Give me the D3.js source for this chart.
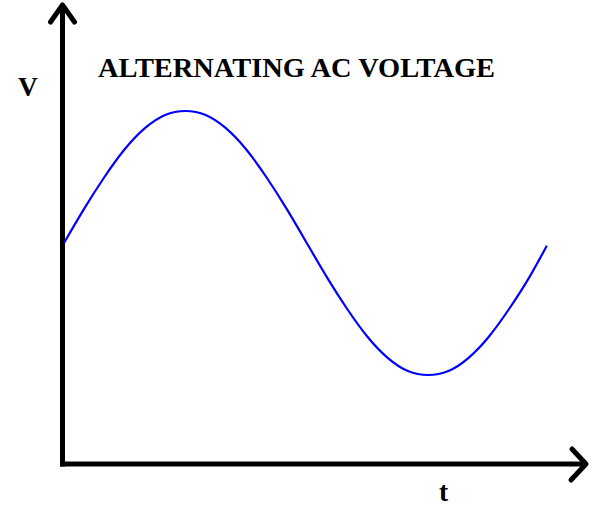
<!DOCTYPE html>
<html>
<head>
<meta charset="utf-8">
<script src="https://cdn.jsdelivr.net/npm/d3@7"></script>
<style>
  html, body { margin: 0; padding: 0; background: #fff; }
  svg { display: block; }
</style>
</head>
<body>
<svg id="chart" width="609" height="514"></svg>
<script>
// Phase angle (degrees) along the time axis
const phase = [0, 15, 30, 45, 60, 75, 90, 105, 120, 135, 150, 165, 180,
               195, 210, 225, 240, 255, 270, 285, 300, 315, 330, 345, 358];
// Voltage (relative to peak)
const voltage = [0, 0.26, 0.5, 0.71, 0.87, 0.97, 1, 0.97, 0.87, 0.71, 0.5, 0.26, 0,
                 -0.26, -0.5, -0.71, -0.87, -0.97, -1, -0.97, -0.87, -0.71, -0.5, -0.26, -0.02];
const titleText = "ALTERNATING AC VOLTAGE";
const yLabel = "V";
const xLabel = "t";

const svg = d3.select("#chart");

const x = d3.scaleLinear().domain([0, 360]).range([64, 549.5]);
const y = d3.scaleLinear().domain([-1, 1]).range([375, 111]);

// Axes with arrows
const originX = 62.5, originY = 464;
const axisTopY = 5, axisRightX = 586;
const axisG = svg.append("g")
  .attr("fill", "none").attr("stroke", "#000")
  .attr("stroke-width", 5).attr("stroke-linecap", "round").attr("stroke-linejoin", "round");

axisG.append("path").attr("stroke-linecap", "butt")
  .attr("d", `M${originX},${axisTopY} V${originY + 2.5}`);
axisG.append("path").attr("stroke-linecap", "butt")
  .attr("d", `M${originX - 2.5},${originY} H${axisRightX}`);
// arrowheads
axisG.append("path")
  .attr("d", `M${originX - 12},${axisTopY + 17} L${originX},${axisTopY} L${originX + 12},${axisTopY + 17}`);
axisG.append("path")
  .attr("d", `M${axisRightX - 14},${originY - 15} L${axisRightX},${originY} L${axisRightX - 15},${originY + 16}`);

// Sine curve
const data = phase.map((p, i) => ({ p, v: voltage[i] }));
const line = d3.line()
  .x(d => x(d.p))
  .y(d => y(d.v))
  .curve(d3.curveNatural);

svg.append("path")
  .datum(data)
  .attr("fill", "none")
  .attr("stroke", "#0000ff")
  .attr("stroke-width", 2.2)
  .attr("d", line);

// Texts
const font = "'Liberation Serif', 'Times New Roman', serif";
svg.append("text")
  .attr("x", 98).attr("y", 77)
  .attr("font-family", font).attr("font-weight", "bold")
  .attr("font-size", 28)
  .attr("textLength", 397).attr("lengthAdjust", "spacingAndGlyphs")
  .attr("fill", "#000")
  .text(titleText);

svg.append("text")
  .attr("x", 18).attr("y", 96)
  .attr("font-family", font).attr("font-weight", "bold")
  .attr("font-size", 27.5)
  .attr("fill", "#000")
  .text(yLabel);

svg.append("text")
  .attr("x", 439).attr("y", 501)
  .attr("font-family", font).attr("font-weight", "bold")
  .attr("font-size", 27.5)
  .attr("fill", "#000")
  .text(xLabel);
</script>
</body>
</html>
